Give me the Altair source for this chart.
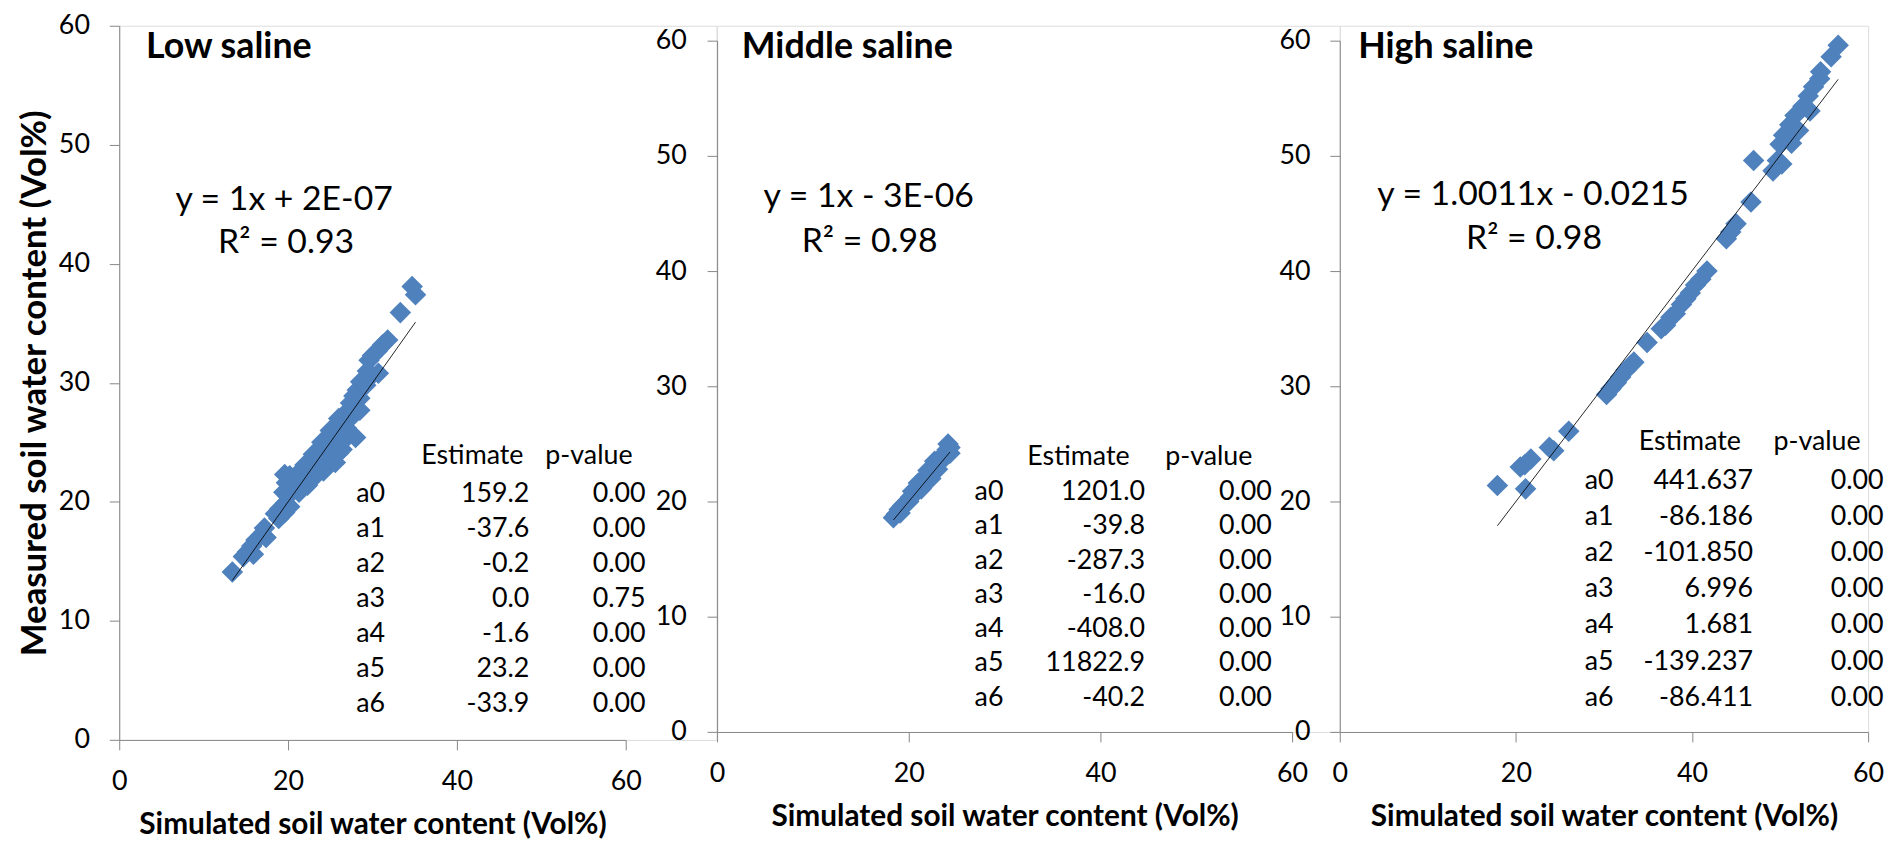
import altair as alt
import pandas as pd

# ---------------- data ----------------
low_sim = [13.4, 14.7, 15.2, 15.9, 15.7, 16.2, 16.8, 17.4, 17.2, 18.5, 18.9,
           19.0, 19.6, 19.7, 20.2, 19.5, 20.0, 20.6, 21.3, 19.8, 20.2, 20.8,
           21.6, 22.3, 19.6, 21.2, 22.4, 23.0, 22.8, 23.5, 24.2, 23.3, 23.8,
           24.4, 24.3, 24.9, 25.6, 26.0, 24.8, 25.4, 25.3, 25.9, 26.4, 25.8,
           26.2, 26.9, 26.8, 27.3, 28.0, 26.6, 27.0, 27.6, 27.4, 27.8, 28.5,
           28.5, 28.2, 28.6, 29.2, 29.4, 29.9, 30.7, 29.6, 30.0, 30.6, 31.2,
           31.8, 33.3, 35.1, 34.7, 21.0, 22.0, 23.0, 24.0, 25.0, 26.0]
low_meas = [14.1, 15.4, 15.8, 15.6, 16.3, 16.8, 17.2, 17.0, 17.8, 19.0, 18.6,
            19.4, 19.1, 19.9, 19.6, 20.8, 20.5, 21.0, 20.8, 21.6, 22.2, 21.8,
            21.5, 21.4, 22.3, 22.4, 22.2, 22.0, 22.8, 22.5, 22.6, 23.2, 23.6,
            23.0, 24.2, 23.8, 23.3, 24.1, 24.8, 24.2, 25.3, 24.9, 24.4, 26.0,
            26.5, 26.2, 25.3, 25.8, 25.4, 27.0, 27.6, 27.2, 28.3, 28.9, 28.7,
            27.7, 29.4, 30.1, 29.8, 31.0, 30.6, 30.8, 31.9, 32.3, 32.7, 33.2,
            33.6, 35.9, 37.4, 38.1, 22.0, 23.1, 24.0, 25.0, 26.0, 27.0]

mid_sim = [18.4, 18.7, 19.0, 19.3, 19.6, 19.9, 20.2, 20.5, 20.4, 20.8, 21.1,
           21.0, 21.4, 21.6, 21.8, 22.1, 22.0, 22.4, 22.6, 22.9, 22.7, 23.2,
           23.3, 23.6, 23.8, 24.0, 24.3, 24.1, 24.3, 19.1, 20.0, 21.3, 22.3, 23.0]
mid_meas = [18.6, 18.9, 19.3, 19.6, 19.8, 20.1, 20.4, 20.6, 20.9, 20.9, 21.2,
            21.6, 21.5, 21.9, 22.2, 22.3, 22.7, 22.6, 23.0, 23.2, 23.5, 23.4,
            23.8, 23.7, 24.2, 24.5, 24.2, 25.0, 24.7, 19.0, 20.0, 21.1, 22.0, 22.8]

high_sim = [17.9, 21.1, 20.5, 21.0, 21.7, 23.8, 24.3, 26.0, 30.3, 30.8, 31.4,
            31.9, 32.5, 33.0, 33.4, 34.9, 36.5, 37.0, 37.6, 38.1, 38.8, 39.3,
            39.8, 40.4, 41.0, 41.7, 43.9, 44.4, 45.0, 46.7, 47.0, 49.2, 49.7,
            50.2, 50.0, 50.4, 51.1, 51.3, 51.7, 52.1, 52.6, 53.4, 53.2, 53.8,
            54.5, 54.6, 55.8, 56.6]
high_meas = [21.4, 21.1, 23.0, 23.2, 23.7, 24.7, 24.4, 26.1, 29.3, 29.8, 30.3,
             30.8, 31.4, 31.8, 32.1, 33.8, 35.0, 35.3, 36.0, 36.3, 37.1, 37.6,
             38.1, 38.8, 39.3, 40.0, 42.8, 43.4, 44.1, 46.0, 49.6, 48.7, 49.6,
             49.3, 51.0, 51.8, 52.7, 51.1, 53.5, 52.2, 54.3, 53.9, 55.2, 56.0,
             56.7, 57.3, 58.6, 59.6]

panel_titles = ["Low saline", "Middle saline", "High saline"]
equations = ["y = 1x + 2E-07", "y = 1x - 3E-06", "y = 1.0011x - 0.0215"]
r_squared = ["R\u00b2 = 0.93", "R\u00b2 = 0.98", "R\u00b2 = 0.98"]
slopes = [1.0, 1.0, 1.0011]
intercepts = [2e-07, -3e-06, -0.0215]

param_names = ["a0", "a1", "a2", "a3", "a4", "a5", "a6"]
low_est = ["159.2", "-37.6", "-0.2", "0.0", "-1.6", "23.2", "-33.9"]
low_p = ["0.00", "0.00", "0.00", "0.75", "0.00", "0.00", "0.00"]
mid_est = ["1201.0", "-39.8", "-287.3", "-16.0", "-408.0", "11822.9", "-40.2"]
mid_p = ["0.00", "0.00", "0.00", "0.00", "0.00", "0.00", "0.00"]
high_est = ["441.637", "-86.186", "-101.850", "6.996", "1.681", "-139.237", "-86.411"]
high_p = ["0.00", "0.00", "0.00", "0.00", "0.00", "0.00", "0.00"]

x_ticks = [0, 20, 40, 60]
y_ticks = [0, 10, 20, 30, 40, 50, 60]
x_title = "Simulated soil water content (Vol%)"
y_title = "Measured soil water content (Vol%)"

# ---------------- layout (page pixels) ----------------
TOP = 20.4
FONT = "Lato"
BLUE = "#4F81BD"
GREY = "#868686"
TICK_FS = 27
TABLE_FS = 27

layouts = [
    dict(ox=120.0, plot_top=20.4, bottom=739.5, xw=510.0, gw=601.4,
         title=(147, 42), eq=(286, 196), r2=(288, 239),
         head_y=454, est_head_x=475.6, p_head_x=593,
         lab_x=358.6, est_x=533, p_x=650, row_y0=492, row_dy=35.3, ylab_pad=20),
    dict(ox=721.4, plot_top=35.4, bottom=731.5, xw=579.0, gw=627.0,
         title=(746.3, 42), eq=(874, 193.3), r2=(875, 238),
         head_y=455, est_head_x=1085.3, p_head_x=1216.5,
         lab_x=980.7, est_x=1152.4, p_x=1280, row_y0=490, row_dy=34.5, ylab_pad=21),
    dict(ox=1348.4, plot_top=35.4, bottom=731.5, xw=532.0, gw=532.0,
         title=(1367, 42), eq=(1543, 190.7), r2=(1544, 234.7),
         head_y=440, est_head_x=1700.9, p_head_x=1829,
         lab_x=1595, est_x=1764.6, p_x=1896, row_y0=478.6, row_dy=36.4, ylab_pad=20),
]

series = [(low_sim, low_meas, low_est, low_p),
          (mid_sim, mid_meas, mid_est, mid_p),
          (high_sim, high_meas, high_est, high_p)]


def make_panel(i):
    L = layouts[i]
    sim, meas, est, pv = series[i]
    h = L["bottom"] - TOP
    top_off = L["plot_top"] - TOP
    plot_h = h - top_off

    # page pixel -> data units of this panel
    def dx(px):
        return (px - L["ox"]) / L["xw"] * 60.0

    def dy(py):
        return (L["bottom"] - py) / plot_h * 60.0

    x_scale = alt.Scale(domain=[0, 60], range=[0, L["xw"]], nice=False, zero=False)
    y_scale = alt.Scale(domain=[0, 60], range=[h, top_off], nice=False, zero=False)

    axis_common = dict(domainColor=GREY, tickColor=GREY, domainWidth=1, tickWidth=1,
                       tickSize=10, labelFont=FONT, labelFontSize=TICK_FS, labelColor="#000000",
                       grid=False, labelFlush=False, labelOverlap=False,
                       titleFont=FONT, titleFontWeight="bold", titleColor="#000000")
    x_axis = alt.Axis(values=x_ticks, title=x_title, titleFontSize=30, labelPadding=19,
                      titlePadding=15, **axis_common)
    if i == 0:
        y_axis = alt.Axis(values=y_ticks, title=y_title, titleFontSize=35,
                          labelPadding=L["ylab_pad"], titlePadding=6, **axis_common)
    else:
        y_axis = alt.Axis(values=y_ticks, title=None, labelPadding=L["ylab_pad"], **axis_common)

    pts = pd.DataFrame({"x": sim, "y": meas})
    scatter = alt.Chart(pts).mark_point(
        shape="diamond", filled=True, size=470, color=BLUE, opacity=1, strokeWidth=0
    ).encode(
        x=alt.X("x:Q", scale=x_scale, axis=x_axis),
        y=alt.Y("y:Q", scale=y_scale, axis=y_axis),
    )

    xmin, xmax = min(sim), max(sim)
    line_df = pd.DataFrame({"x": [xmin, xmax],
                            "y": [slopes[i] * xmin + intercepts[i], slopes[i] * xmax + intercepts[i]]})
    trend = alt.Chart(line_df).mark_line(color="#000000", strokeWidth=1, opacity=0.85).encode(
        x="x:Q", y="y:Q")

    def text_layer(items, align, size, weight="normal", baseline="middle"):
        df = pd.DataFrame({"x": [dx(a) for a, b, t in items],
                           "y": [dy(b) for a, b, t in items],
                           "t": [t for a, b, t in items]})
        return alt.Chart(df).mark_text(
            align=align, baseline=baseline, font=FONT, fontSize=size,
            fontWeight=weight, color="#000000"
        ).encode(x="x:Q", y="y:Q", text="t:N")

    title = text_layer([(L["title"][0], L["title"][1], panel_titles[i])], "left", 36, "bold")
    eq = text_layer([(L["eq"][0], L["eq"][1], equations[i]),
                     (L["r2"][0], L["r2"][1], r_squared[i])], "center", 34)
    heads = text_layer([(L["est_head_x"], L["head_y"], "Estimate"),
                        (L["p_head_x"], L["head_y"], "p-value")], "center", TABLE_FS)
    rows_y = [L["row_y0"] + k * L["row_dy"] for k in range(len(param_names))]
    labs = text_layer([(L["lab_x"], yy, n) for yy, n in zip(rows_y, param_names)], "left", TABLE_FS)
    ests = text_layer([(L["est_x"], yy, v) for yy, v in zip(rows_y, est)], "right", TABLE_FS)
    pvs = text_layer([(L["p_x"], yy, v) for yy, v in zip(rows_y, pv)], "right", TABLE_FS)

    return alt.layer(scatter, trend, title, eq, heads, labs, ests, pvs).properties(
        width=L["gw"], height=h)


chart = alt.hconcat(make_panel(0), make_panel(1), make_panel(2), spacing=0, bounds="flush").properties(
    padding={"left": 9, "top": 0, "right": 0, "bottom": 0}
).configure_view(stroke=None).configure(background="white")

chart.save("out.html", embed_options={"renderer": "svg", "actions": False})
